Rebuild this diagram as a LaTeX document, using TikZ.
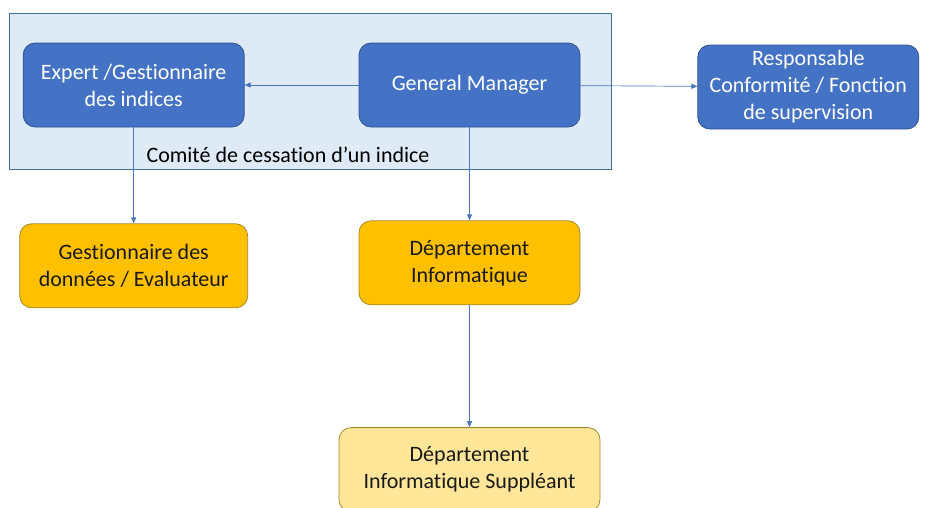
\documentclass[tikz,border=0pt]{standalone}
\usepackage{fontspec}
\setmainfont{Carlito}[Ligatures=NoCommon]
\usetikzlibrary{arrows.meta,positioning}
\definecolor{boxblue}{HTML}{4472C4}
\definecolor{boxblueline}{HTML}{2F528F}
\definecolor{boxorange}{HTML}{FFC000}
\definecolor{boxpale}{HTML}{FFE699}
\definecolor{boxgoldline}{HTML}{A8872A}
\definecolor{panelfill}{HTML}{DEEBF7}
\definecolor{panelline}{HTML}{41719C}
\definecolor{linkblue}{HTML}{4A76C0}
\tikzset{
	org chart/.style={
		x=1pt, y=-1pt,
		font=\fontsize{22}{27}\selectfont,
		>={Triangle[length=6pt,width=5pt]}},
	unit/.style={rounded corners=12pt, minimum width=221pt, minimum height=84pt,
		align=center, inner sep=0pt, line width=0.8pt},
	blue unit/.style={unit, fill=boxblue, draw=boxblueline, text=white},
	gold unit/.style={unit, fill=boxorange, draw=boxgoldline, text=black!90},
	pale unit/.style={unit, fill=boxpale, draw=boxgoldline, text=black!90},
	panel/.style={rectangle, fill=panelfill, draw=panelline, line width=0.7pt,
		minimum width=602pt, minimum height=156pt, inner sep=0pt},
	link/.style={->, draw=linkblue, line width=0.7pt}
}

\begin{document}
\begin{tikzpicture}[org chart]
   \useasboundingbox (0,0) rectangle (930,507);
   \clip (0,0) rectangle (930,507);
   \node[panel] (committee) at (310,91) {};
   \node[anchor=base west] (committeename) at (143,162) {Comité de cessation d’un indice};
   % top row
   \node[blue unit] (manager) at (469.5,85) {General Manager};
   \node[blue unit, left=114pt of manager] (expert) {Expert /Gestionnaire\\des indices};
   \node[blue unit, right=117pt of manager, yshift=-2pt] (compliance) {Responsable\\Conformité / Fonction\\de supervision};
   % lower rows
   \node[gold unit, minimum width=228pt, below=96pt of expert] (data) {Gestionnaire des\\données / Evaluateur};
   \node[gold unit, below=93pt of manager] (it) {Département\\Informatique};
   \node[pale unit, minimum width=261pt, below=122pt of it] (itbackup) {Département\\Informatique Suppléant};
   \draw[link] (manager) -- (expert);
   \draw[link] (manager) -- (compliance);
   \draw[link] (expert) -- (data);
   \draw[link] (manager) -- (it);
   \draw[link] (it) -- (itbackup);
\end{tikzpicture}
\end{document}
